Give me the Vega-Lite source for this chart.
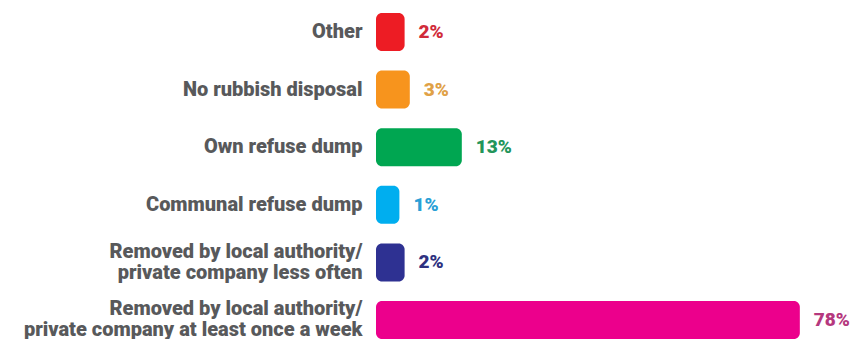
{
  "$schema": "https://vega.github.io/schema/vega-lite/v6.json",
  "autosize": "none",
  "padding": {"left": 376, "top": 13, "right": 0, "bottom": 0},
  "width": 480,
  "height": 326,
  "background": "white",
  "config": {"view": {"stroke": null}, "font": "Roboto"},
  "data": {"values": [
    {"cat": "Other", "pct": 0.02},
    {"cat": "No rubbish disposal", "pct": 0.03},
    {"cat": "Own refuse dump", "pct": 0.13},
    {"cat": "Communal refuse dump", "pct": 0.01},
    {"cat": "Removed by local authority/|private company less often", "pct": 0.02},
    {"cat": "Removed by local authority/|private company at least once a week", "pct": 0.78}
  ]},
  "encoding": {
    "y": {"field": "cat", "type": "nominal", "sort": null, "title": null,
      "scale": {"paddingInner": 0.34, "paddingOuter": 0},
      "axis": {"domain": false, "ticks": false, "labelFontSize": 20, "labelFontWeight": 900, "labelColor": "#58595b", "labelPadding": 14, "labelLimit": 400, "labelLineHeight": 21, "labelExpr": "split(datum.label, '|')",
        "labelOffset": {"condition": {"test": "indexof(datum.value, '|') >= 0", "value": -10.5}, "value": 0}}}
  },
  "layer": [
    {"mark": {"type": "bar", "cornerRadius": 6},
     "encoding": {
       "x": {"field": "pct", "type": "quantitative", "axis": null, "scale": {"domain": [-0.035, 0.888], "zero": false, "nice": false}},
       "x2": {"datum": -0.035},
       "color": {"field": "cat", "type": "nominal", "legend": null,
         "scale": {"domain": ["Other", "No rubbish disposal", "Own refuse dump", "Communal refuse dump", "Removed by local authority/|private company less often", "Removed by local authority/|private company at least once a week"],
           "range": ["#ed1c24", "#f7941d", "#00a651", "#00aeef", "#2e3192", "#ec008c"]}}
     }},
    {"mark": {"type": "text", "align": "left", "dx": 14, "fontSize": 19, "fontWeight": 900},
     "encoding": {
       "x": {"field": "pct", "type": "quantitative"},
       "text": {"field": "pct", "type": "quantitative", "format": ".0%"},
       "fill": {"field": "cat", "type": "nominal", "legend": null,
         "scale": {"domain": ["Other", "No rubbish disposal", "Own refuse dump", "Communal refuse dump", "Removed by local authority/|private company less often", "Removed by local authority/|private company at least once a week"],
           "range": ["#d12b3a", "#e0a146", "#23955a", "#2a9fd6", "#2e3180", "#b5387e"]}}
     }}
  ]
}
